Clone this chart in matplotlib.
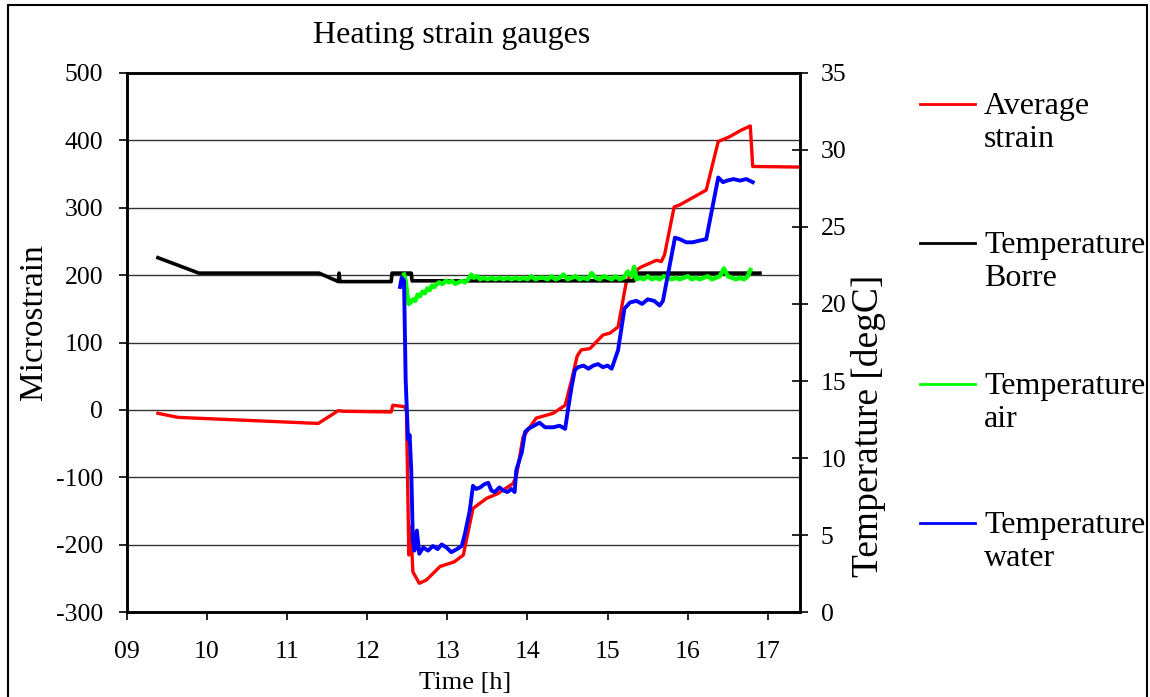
import matplotlib
matplotlib.use('Agg')
import matplotlib.pyplot as plt
from matplotlib.lines import Line2D
from matplotlib.patches import Rectangle

plt.rcParams['font.family'] = ['Liberation Serif', 'DejaVu Serif']
plt.rcParams['axes.unicode_minus'] = False

# average strain (microstrain) vs time of day [h]
strain_t = [9.39, 9.64, 11.39, 11.64, 11.70, 12.30, 12.32, 12.46, 12.49, 12.52,
            12.545, 12.57, 12.65, 12.74, 12.91, 12.99, 13.09, 13.20, 13.32, 13.49,
            13.63, 13.82, 13.86, 13.945, 14.11, 14.32, 14.47, 14.55, 14.62, 14.67,
            14.78, 14.94, 15.03, 15.13, 15.23, 15.30, 15.42, 15.61, 15.67, 15.71,
            15.83, 15.90, 16.23, 16.38, 16.52, 16.67, 16.78, 16.81, 17.45]
strain_v = [-5, -11, -20, -1, -2, -3, 7, 5, 0, -215,
            -173, -240, -257, -252, -232, -229, -225, -215, -146, -131,
            -124, -109, -99, -40, -12, -5, 7, 44, 80, 89,
            91, 111, 114, 123, 188, 203, 212, 222, 220, 230,
            301, 304, 326, 398, 405, 415, 421, 361, 360]

# temperature Borre [degC]
borre_t = [9.39, 9.90, 11.40, 11.64, 11.65, 11.66, 12.30, 12.31, 12.55, 12.56,
           15.33, 15.34, 16.90]
borre_v = [23.0, 22.0, 22.0, 21.45, 22.0, 21.45, 21.45, 22.0, 22.0, 21.5,
           21.5, 22.0, 22.0]

# air temperature [degC]
air_t = [12.46, 12.48, 12.50, 12.52, 12.54, 12.57, 12.60, 12.63, 12.66, 12.69,
         12.72, 12.75, 12.78, 12.81, 12.84, 12.87, 12.90, 12.94, 12.98, 13.02,
         13.06, 13.10, 13.14, 13.18, 13.22, 13.26, 13.30, 13.33, 13.37, 13.41,
         13.45, 13.50, 13.55, 13.60, 13.65, 13.70, 13.75, 13.80, 13.85, 13.90,
         13.95, 14.00, 14.05, 14.10, 14.15, 14.20, 14.25, 14.30, 14.35, 14.40,
         14.45, 14.50, 14.55, 14.60, 14.65, 14.70, 14.75, 14.80, 14.85, 14.90,
         14.95, 15.00, 15.05, 15.10, 15.15, 15.20, 15.25, 15.30, 15.33, 15.36,
         15.40, 15.45, 15.50, 15.55, 15.60, 15.65, 15.70, 15.75, 15.80, 15.85,
         15.90, 15.95, 16.00, 16.05, 16.10, 16.15, 16.20, 16.25, 16.30, 16.35,
         16.40, 16.45, 16.50, 16.55, 16.60, 16.65, 16.70, 16.75, 16.78]
air_v = [21.9, 21.5, 20.6, 20.0, 20.1, 20.3, 20.2, 20.6, 20.5, 20.8,
         20.7, 21.0, 20.9, 21.2, 21.1, 21.3, 21.4, 21.3, 21.5, 21.4,
         21.5, 21.3, 21.4, 21.5, 21.4, 21.6, 21.9, 21.7, 21.8, 21.6,
         21.7, 21.6, 21.7, 21.6, 21.7, 21.6, 21.7, 21.6, 21.7, 21.6,
         21.7, 21.6, 21.8, 21.6, 21.7, 21.7, 21.6, 21.8, 21.6, 21.7,
         21.9, 21.6, 21.7, 21.8, 21.6, 21.7, 21.6, 22.0, 21.7, 21.6,
         21.8, 21.7, 21.6, 21.8, 21.6, 21.7, 22.1, 21.8, 22.4, 21.6,
         21.7, 21.6, 21.8, 21.6, 21.7, 21.6, 21.8, 21.7, 21.6, 21.7,
         21.6, 21.7, 21.8, 21.6, 21.7, 21.6, 21.7, 21.8, 21.6, 21.7,
         21.8, 22.3, 21.8, 21.7, 21.6, 21.7, 21.6, 21.8, 22.2]

# water temperature [degC]
water_t = [12.41, 12.43, 12.46, 12.47, 12.48, 12.51, 12.53, 12.55, 12.57, 12.59,
           12.62, 12.65, 12.70, 12.76, 12.82, 12.88, 12.93, 12.99, 13.05, 13.12,
           13.18, 13.22, 13.28, 13.32, 13.36, 13.41, 13.46, 13.51, 13.55, 13.59,
           13.65, 13.70, 13.75, 13.80, 13.84, 13.86, 13.93, 13.97, 14.01, 14.08,
           14.15, 14.22, 14.32, 14.40, 14.47, 14.51, 14.55, 14.59, 14.63, 14.70,
           14.76, 14.82, 14.88, 14.94, 15.00, 15.05, 15.13, 15.21, 15.28, 15.36,
           15.43, 15.50, 15.58, 15.65, 15.69, 15.84, 15.90, 15.98, 16.06, 16.14,
           16.23, 16.38, 16.44, 16.49, 16.57, 16.65, 16.73, 16.81]
water_v = [21.1, 21.7, 21.5, 18.3, 15.1, 11.2, 11.5, 9.2, 4.7, 4.0,
           5.3, 3.8, 4.2, 4.0, 4.3, 4.1, 4.4, 4.2, 3.9, 4.1,
           4.3, 5.1, 6.6, 8.2, 8.0, 8.1, 8.3, 8.4, 7.9, 7.8,
           8.1, 7.9, 7.8, 8.0, 7.8, 9.2, 10.4, 11.7, 11.9, 12.1,
           12.3, 12.0, 12.0, 12.1, 11.9, 13.3, 14.6, 15.7, 15.9, 16.0,
           15.8, 16.0, 16.1, 15.9, 16.0, 15.8, 17.0, 19.7, 20.1, 20.2,
           20.0, 20.3, 20.2, 19.9, 20.2, 24.3, 24.2, 24.0, 24.0, 24.1,
           24.2, 28.2, 27.9, 28.0, 28.1, 28.0, 28.1, 27.9]

hours = list(range(9, 18))
hour_labels = ['%02d' % h for h in hours]
series_names = ['Average\nstrain', 'Temperature\nBorre', 'Temperature\nair', 'Temperature\nwater']
series_colors = ['#ff0000', '#000000', '#00ff00', '#0000ff']

W, H = 1150, 697
fig = plt.figure(figsize=(W / 100, H / 100), dpi=100)

ax = fig.add_axes([126.7 / W, 1 - 612.3 / H, (800 - 126.7) / W, (612.3 - 72.7) / H])
for y in range(-200, 500, 100):
    ax.axhline(y, color='#333333', lw=1.0, zorder=0)
ax.plot(strain_t, strain_v, color=series_colors[0], lw=2.4, zorder=3)
ax.set_xlim(9, 17.4)
ax.set_ylim(-300, 500)
ax.set_xticks(hours)
ax.set_xticklabels(hour_labels)
ax.set_yticks(range(-300, 501, 100))
ax.tick_params(axis='x', direction='out', length=6, width=1.2, labelsize=18.5, pad=15)
ax.tick_params(axis='y', direction='out', length=6, width=1.2, labelsize=18.5, pad=11)

ax2 = ax.twinx()
ax2.plot(borre_t, borre_v, color=series_colors[1], lw=2.6)
ax2.plot(air_t, air_v, color=series_colors[2], lw=3.2)
ax2.plot(water_t, water_v, color=series_colors[3], lw=2.8)
ax2.set_ylim(0, 35)
ax2.set_yticks(range(0, 36, 5))
ax2.tick_params(axis='y', direction='inout', length=12, width=1.2, labelsize=18.5, pad=9)

for a in (ax, ax2):
    for s in a.spines.values():
        s.set_linewidth(1.8)

fig.text(452 / W, 1 - 35 / H, 'Heating strain gauges', fontsize=23, ha='center', va='center')
fig.text(465 / W, 1 - 683 / H, 'Time [h]', fontsize=19, ha='center', va='center')
fig.text(34 / W, 1 - 322 / H, 'Microstrain', fontsize=24, rotation=90, ha='center', va='center')
fig.text(868 / W, 1 - 426 / H, 'Temperature [degC]', fontsize=27, rotation=90,
         ha='center', va='center')

# legend drawn beside the plot, handle level with the first text line
legend_y = [104, 243, 384, 523]
for name, col, ly in zip(series_names, series_colors, legend_y):
    fig.add_artist(Line2D([920 / W, 975 / W], [1 - ly / H, 1 - ly / H], color=col, lw=2.0))
    fig.text(984 / W, 1 - (ly + 19) / H, name, fontsize=23, ha='left', va='center',
             linespacing=1.2)

fig.add_artist(Rectangle((7.5 / W, -0.01), (1147 - 7.5) / W, 1.01 - 4.5 / H,
                         transform=fig.transFigure, fill=False, lw=1.5, color='black'))

fig.savefig('out.png', dpi=100)
